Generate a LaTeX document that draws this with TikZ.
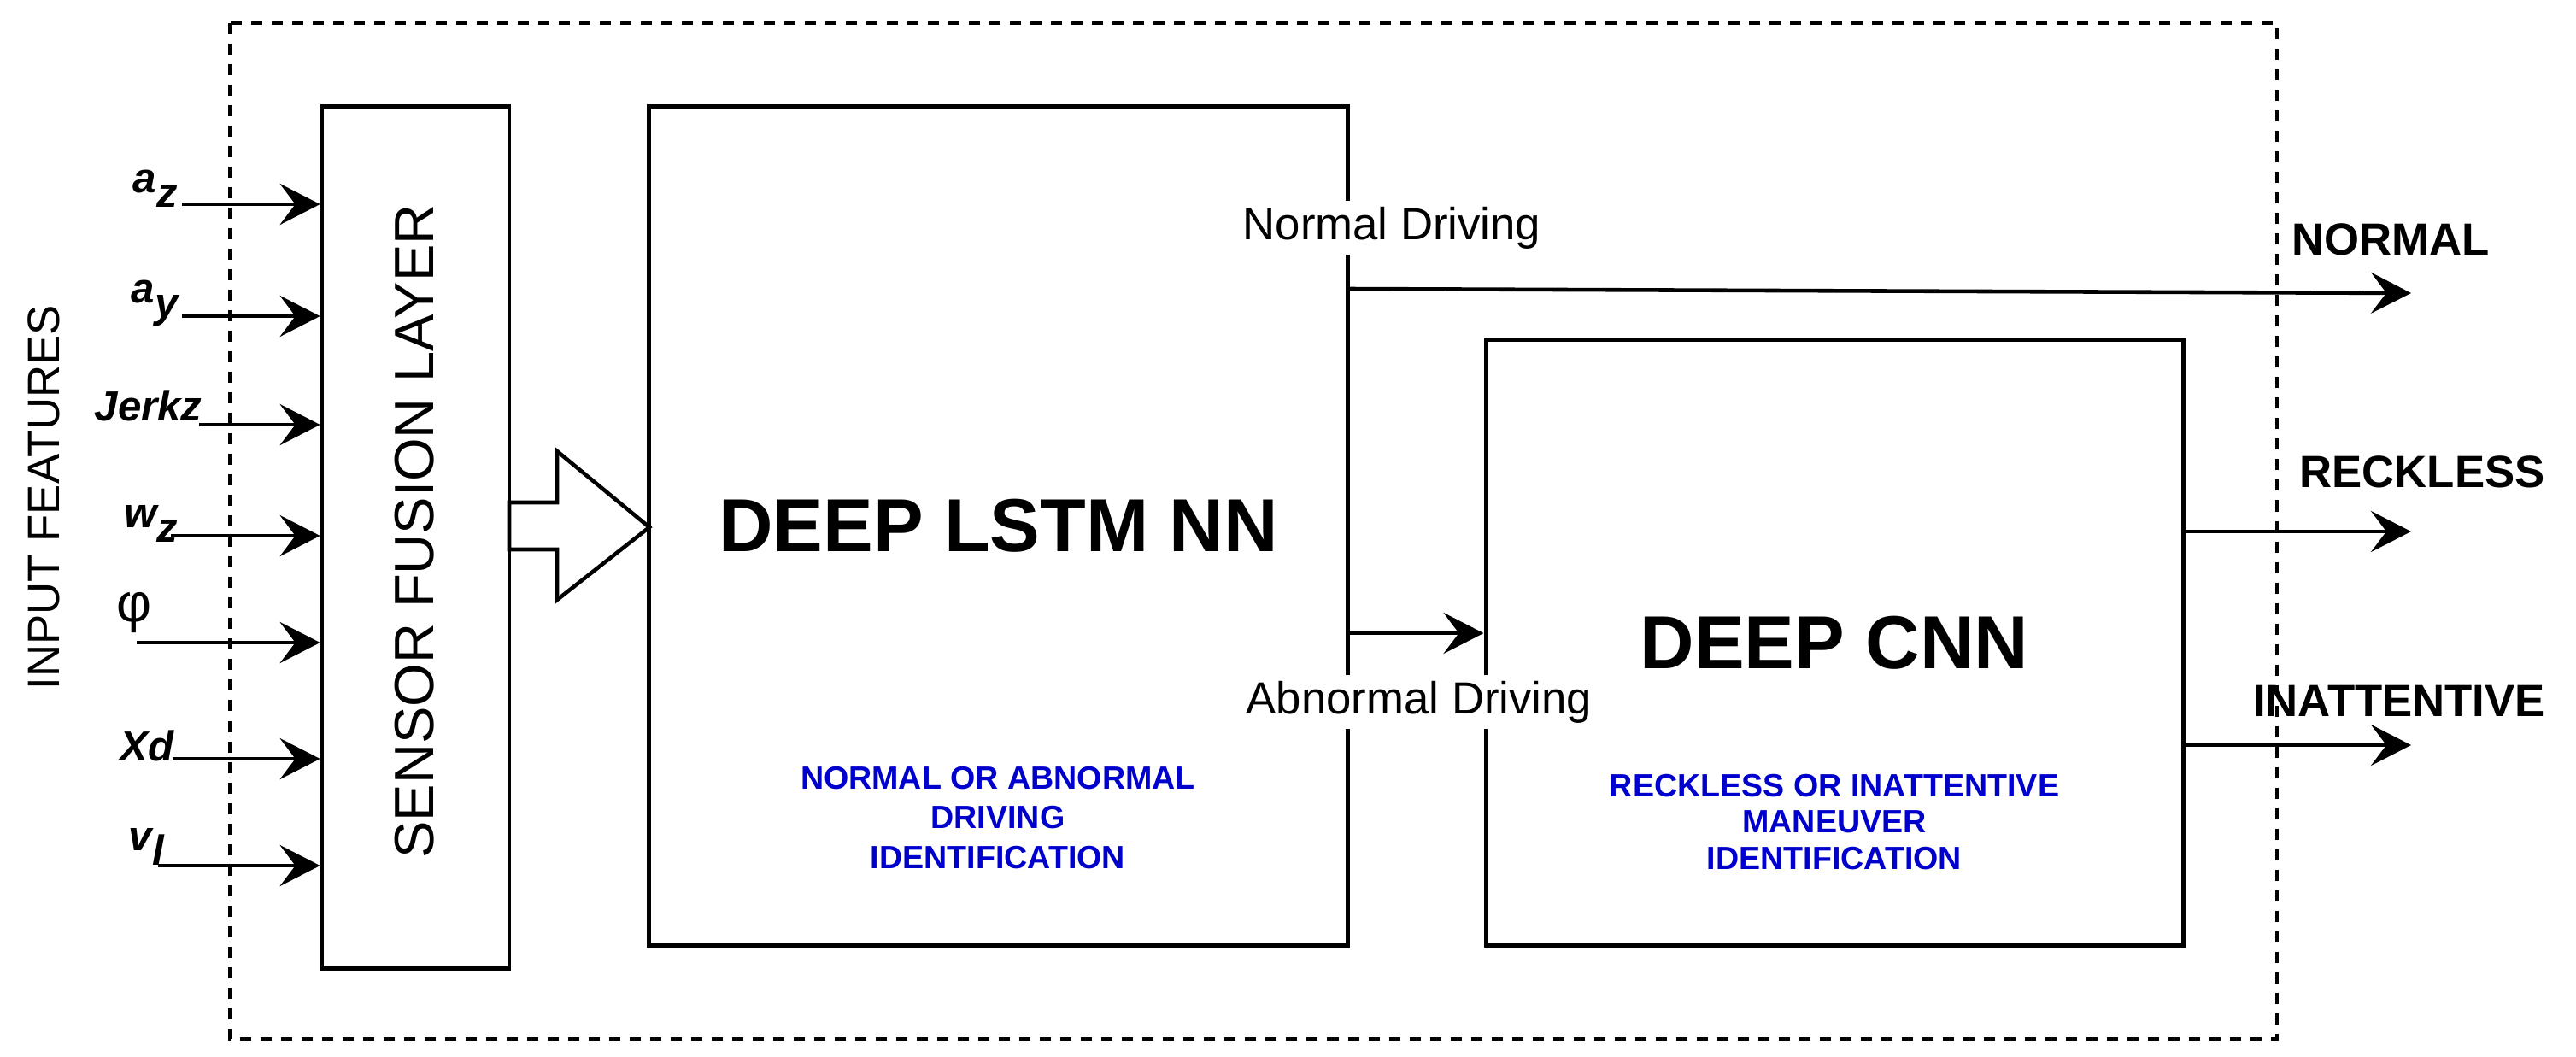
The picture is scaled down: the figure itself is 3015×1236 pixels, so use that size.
\documentclass[tikz,border=0pt]{standalone}
\usepackage{fontspec}
\setmainfont{Liberation Sans}
\usetikzlibrary{arrows.meta}
\definecolor{lblue}{RGB}{0,0,204}
\newcommand\lsub[1]{\raisebox{-0.35em}{#1}}
\begin{document}
\begin{tikzpicture}[x=0.01cm,y=-0.01cm,
  lw/.style={line width=1.3pt},
  box/.style={draw, lw, rectangle, inner sep=0pt, font=\fontsize{25}{30}\selectfont\bfseries},
  arr/.style={lw, -{Stealth[length=0.47cm,width=0.48cm,inset=0.18cm]}},
  inlabel/.style={inner sep=0pt, anchor=base west, font=\fontsize{14}{16}\selectfont\bfseries\itshape},
  outlabel/.style={inner sep=0pt, anchor=base, font=\fontsize{15}{18}\selectfont\bfseries},
  edgelabel/.style={fill=white, inner sep=2pt, anchor=base, font=\fontsize{15}{18}\selectfont},
  bluenote/.style={text=lblue, align=center, inner sep=0pt},
  framestyle/.style={lw, dash pattern=on 0.13cm off 0.11cm}]
\useasboundingbox (0,0) rectangle (3015,1236);

% outer dashed frame
\draw[framestyle] (269,27) rectangle (2665,1216);

% boxes
\node[box, minimum width=2.19cm, minimum height=10.08cm] (sens) at (486.5,629) {};
\node[rotate=90, inner sep=0pt, font=\fontsize{18.5}{22}\selectfont] (senstxt) at (485,622) {SENSOR FUSION LAYER};
\node[box, minimum width=8.17cm, minimum height=9.81cm] (lstm) at (1168.5,615.5) {DEEP LSTM NN};
\node[box, minimum width=8.16cm, minimum height=7.08cm] (cnn) at (2147,752) {DEEP CNN};

% input features label
\node[rotate=90, inner sep=0pt, font=\fontsize{15}{18}\selectfont] (inf) at (51,582) {INPUT FEATURES};

% input labels
\node[inlabel] (laz) at (155,225) {a\lsub{z}};
\node[inlabel] (lay) at (153,354) {a\lsub{y}};
\node[inlabel] (ljz) at (110,492) {Jerkz};
\node[inlabel] (lwz) at (145,617) {w\lsub{z}};
\node[inner sep=0pt, font=\fontsize{18}{20}\selectfont] (lphi) at (157,717) {φ};
\node[inlabel] (lxd) at (140,890) {Xd};
\node[inlabel] (lvl) at (150,995) {v\lsub{l}};

% input arrows
\coordinate (s1) at (213,239);
\coordinate (s2) at (213,370);
\coordinate (s3) at (233,497);
\coordinate (s4) at (200,627);
\coordinate (s5) at (160,752);
\coordinate (s6) at (202,888);
\coordinate (s7) at (185,1013);
\foreach \s in {s1,s2,s3,s4,s5,s6,s7}
  \draw[arr] (\s) -- (\s -| sens.west);

% block arrow from sensor fusion to LSTM
\draw[lw, fill=white] (596,588) -- (652,588) -- (652,528) -- (760,617)
  -- (652,702) -- (652,643) -- (596,643) -- cycle;

% LSTM outputs
\coordinate (yN) at (0,338);
\coordinate (yA) at (0,741);
\coordinate (oN) at (2822,343);
\coordinate (oR) at (2822,622);
\coordinate (oI) at (2822,872);
\draw[arr] (lstm.east |- yN) -- (oN);
\draw[arr] (lstm.east |- yA) -- (cnn.west |- yA);
\draw[arr] (cnn.east |- oR) -- (oR);
\draw[arr] (cnn.east |- oI) -- (oI);

% edge labels
\node[edgelabel] (nd) at (1629,280) {Normal Driving};
\node[edgelabel] (ad) at (1661,835) {Abnormal Driving};

% output labels
\node[outlabel] (tN) at (2798,298) {NORMAL};
\node[outlabel] (tR) at (2835,570) {RECKLESS};
\node[outlabel] (tI) at (2808,838) {INATTENTIVE};

% blue notes
\node[bluenote, font=\fontsize{10.7}{13.1}\selectfont\bfseries] (bl) at (1168,957) {NORMAL OR ABNORMAL\\DRIVING\\IDENTIFICATION};
\node[bluenote, font=\fontsize{10.7}{12.2}\selectfont\bfseries] (bc) at (2147,962) {RECKLESS OR INATTENTIVE\\MANEUVER\\IDENTIFICATION};
\end{tikzpicture}
\end{document}
